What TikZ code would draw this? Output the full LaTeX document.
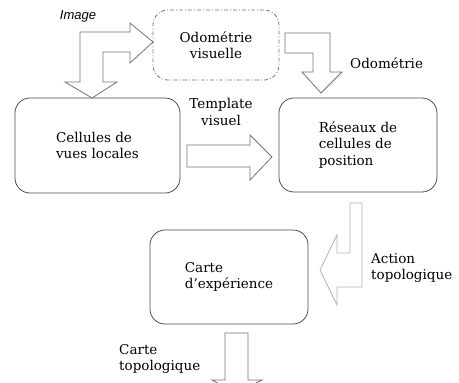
\documentclass[tikz,border=0pt]{standalone}
\usepackage{fontspec}
\setmainfont{DejaVu Serif}
\newfontfamily\labelsans{Liberation Sans}
\begin{document}
\begin{tikzpicture}[x=1pt,y=-1pt,
  every node/.style={font=\fontsize{13.5}{16.5}\selectfont, inner sep=0pt},
  stagebox/.style={draw=black!70, line width=0.8pt, rounded corners=15pt, align=left},
  blockarrow/.style={draw=black!55, line width=0.8pt, line join=miter},
  faintarrow/.style={draw=black!30, line width=0.8pt, line join=miter},
  caption/.style={align=left}
]
\clip (0,0) rectangle (459,383);

% processing stages
\node[stagebox, align=center, minimum width=126pt, minimum height=70pt,
      draw=black!55, dash pattern=on 4pt off 2pt on 1pt off 2pt]
      (odo) at (216,45) {Odométrie\\visuelle};
\node[stagebox, minimum width=165pt, minimum height=95pt] (cell) at (97.5,145.5) {Cellules de\\vues locales};
\node[stagebox, minimum width=158pt, minimum height=94pt] (res) at (358,145) {Réseaux de\\cellules de\\position};
\node[stagebox, minimum width=158pt, minimum height=94pt] (carte) at (229,277) {Carte\\d\char"27 expérience};

% image input: bent arrow feeding both the odometry and the local view cells
\draw[blockarrow] (80,82) -- (80,32) -- (130,32) -- (130,23) -- (153,42) -- (130,63)
  -- (130,52) -- (103,52) -- (103,82) -- (117,82) -- (92,98) -- (65,82) -- cycle;
% odometry to position cells
\draw[blockarrow] (285,33) -- (330,33) -- (330,72) -- (342,72) -- (321,93) -- (302,72)
  -- (313,72) -- (313,53) -- (285,53) -- cycle;
% visual template
\draw[blockarrow] (187,145) -- (250,145) -- (250,135) -- (272,157) -- (250,180)
  -- (250,167) -- (187,167) -- cycle;
% topological action
\draw[faintarrow] (350,203) -- (362,203) -- (362,287) -- (337,287) -- (337,305)
  -- (320,270) -- (337,235) -- (337,253) -- (350,253) -- cycle;
% topological map output
\draw[blockarrow] (225,333) -- (248,333) -- (248,380) -- (262,380) -- (237,393)
  -- (212,380) -- (225,380) -- cycle;

% arrow captions
\node[font=\labelsans\itshape\fontsize{13}{15}\selectfont] (lblimage) at (78,16) {Image};
\node[caption, align=center] (lbltemplate) at (221,112) {Template\\visuel};
\node[caption, anchor=west] (lblodo) at (350,63) {Odométrie};
\node[caption, anchor=west] (lblaction) at (371,268) {Action\\topologique};
\node[caption, anchor=west] (lblcarte) at (119,359) {Carte\\topologique};
\end{tikzpicture}
\end{document}
